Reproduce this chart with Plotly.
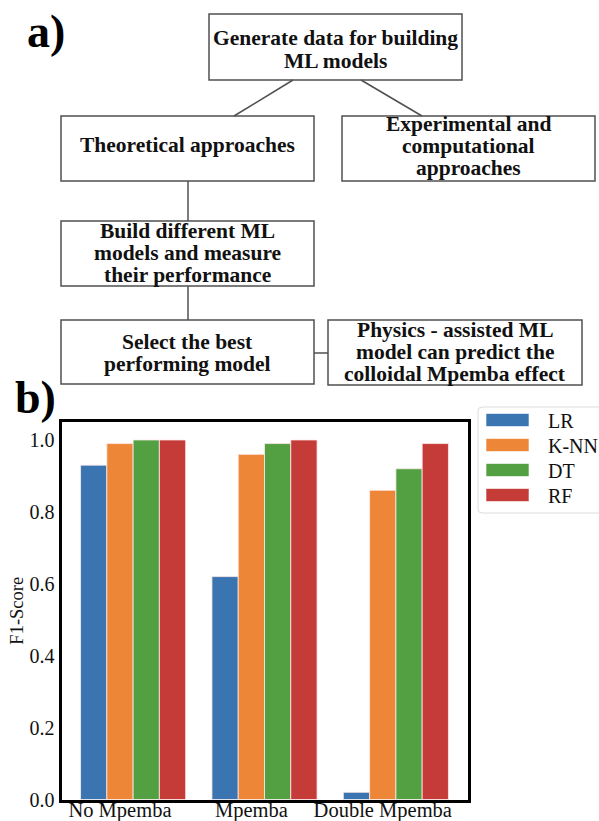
import plotly.graph_objects as go

# ---- data -------------------------------------------------------------
categories = ["No Mpemba", "Mpemba", "Double Mpemba"]
models = ["LR", "K-NN", "DT", "RF"]
lr_scores = [0.93, 0.62, 0.02]
knn_scores = [0.99, 0.96, 0.86]
dt_scores = [1.00, 0.99, 0.92]
rf_scores = [1.00, 1.00, 0.99]
y_ticks = [0.0, 0.2, 0.4, 0.6, 0.8, 1.0]

series = [lr_scores, knn_scores, dt_scores, rf_scores]
colors = ["#3a75b1", "#ee8637", "#53a043", "#c43b37"]

W, H = 599, 821
SERIF = "Liberation Serif, Times New Roman, serif"


def px(x):
    return x / W


def py(y):
    return 1 - y / H


fig = go.Figure()

xpos = list(range(len(categories)))
for name, vals, col in zip(models, series, colors):
    fig.add_trace(go.Bar(
        x=xpos, y=vals, name=name,
        marker=dict(color=col, line=dict(color="rgba(255,235,235,0.8)", width=1)),
        showlegend=False,
    ))

shapes = []
annotations = []

# ---- flowchart (panel a) ---------------------------------------------
boxes = [
    (209, 14, 462, 80, ["Generate data for building", "ML models"], [38, 61]),
    (61, 116, 314, 181, ["Theoretical approaches"], [145]),
    (342, 116, 595, 181, ["Experimental and", "computational", "approaches"], [124, 146, 168]),
    (61, 221, 314, 286, ["Build different ML", "models and measure", "their performance"], [231, 253, 275]),
    (61, 320, 314, 384, ["Select the best", "performing model"], [342, 364]),
    (328, 320, 582, 385, ["Physics - assisted ML", "model can predict the", "colloidal Mpemba effect"], [330, 352, 374]),
]
for x0, y0, x1, y1, lines, ys in boxes:
    shapes.append(dict(type="rect", xref="paper", yref="paper",
                       x0=px(x0), y0=py(y1), x1=px(x1), y1=py(y0),
                       line=dict(color="#505050", width=1.5), fillcolor="rgba(0,0,0,0)"))
    cx = (x0 + x1) / 2
    for txt, ty in zip(lines, ys):
        annotations.append(dict(xref="paper", yref="paper", x=px(cx), y=py(ty),
                                text=f"<b>{txt}</b>", showarrow=False,
                                xanchor="center", yanchor="middle",
                                font=dict(family=SERIF, size=21.5, color="#111")))

connectors = [
    (293, 80, 234, 116),
    (361, 80, 422, 116),
    (188, 181, 188, 221),
    (188, 286, 188, 320),
    (314, 353, 328, 353),
]
for x0, y0, x1, y1 in connectors:
    shapes.append(dict(type="line", xref="paper", yref="paper",
                       x0=px(x0), y0=py(y0), x1=px(x1), y1=py(y1),
                       line=dict(color="#505050", width=1.5)))

# panel letters
annotations.append(dict(xref="paper", yref="paper", x=px(25), y=py(32), text="<b>a)</b>",
                        showarrow=False, xanchor="left", yanchor="middle",
                        font=dict(family=SERIF, size=46, color="#000")))
annotations.append(dict(xref="paper", yref="paper", x=px(13), y=py(397), text="<b>b)</b>",
                        showarrow=False, xanchor="left", yanchor="middle",
                        font=dict(family=SERIF, size=46, color="#000")))

# ---- legend (panel b) -------------------------------------------------
lx0, ly0, lx1, ly1, r = 478, 407, 610, 513, 4
shapes.append(dict(
    type="path", xref="paper", yref="paper",
    path=(f"M {px(lx0 + r)},{py(ly0)} L {px(lx1)},{py(ly0)} L {px(lx1)},{py(ly1)} "
          f"L {px(lx0 + r)},{py(ly1)} Q {px(lx0)},{py(ly1)} {px(lx0)},{py(ly1 - r)} "
          f"L {px(lx0)},{py(ly0 + r)} Q {px(lx0)},{py(ly0)} {px(lx0 + r)},{py(ly0)} Z"),
    line=dict(color="#dcdcdc", width=1), fillcolor="white"))
for i, (name, col) in enumerate(zip(models, colors)):
    cy = 420 + 25 * i
    shapes.append(dict(type="rect", xref="paper", yref="paper",
                       x0=px(486), y0=py(cy + 6.5), x1=px(529), y1=py(cy - 6.5),
                       line=dict(color="rgba(255,255,255,0.6)", width=1), fillcolor=col))
    annotations.append(dict(xref="paper", yref="paper", x=px(546), y=py(cy + 1),
                            text=name, showarrow=False, xanchor="left", yanchor="middle",
                            font=dict(family=SERIF, size=20, color="#111")))

fig.update_layout(
    width=W, height=H,
    margin=dict(l=0, r=0, t=0, b=0),
    paper_bgcolor="white", plot_bgcolor="white",
    barmode="group", bargap=0.2, bargroupgap=0.0,
    shapes=shapes, annotations=annotations,
    font=dict(family=SERIF, color="#111"),
    xaxis=dict(
        domain=[px(61.5), px(467.5)],
        range=[-0.545, 2.545],
        tickvals=[v - 0.1 for v in xpos], ticktext=categories,
        ticks="", ticklabelstandoff=-10, showgrid=False, zeroline=False,
        showline=True, mirror=True, linecolor="black", linewidth=3,
        tickfont=dict(family=SERIF, size=20.5, color="#111"),
        automargin=False,
    ),
    yaxis=dict(
        domain=[py(799.5), py(422)],
        range=[0, 1.05],
        tickvals=y_ticks, tickformat=".1f",
        ticks="", ticklabelstandoff=0, showgrid=False, zeroline=False,
        showline=True, mirror=True, linecolor="black", linewidth=3,
        tickfont=dict(family=SERIF, size=20, color="#111"),
        title=dict(text="F1-Score", font=dict(family=SERIF, size=18.5, color="#111"), standoff=2),
        automargin=False,
    ),
)

fig.write_html("out.html")
